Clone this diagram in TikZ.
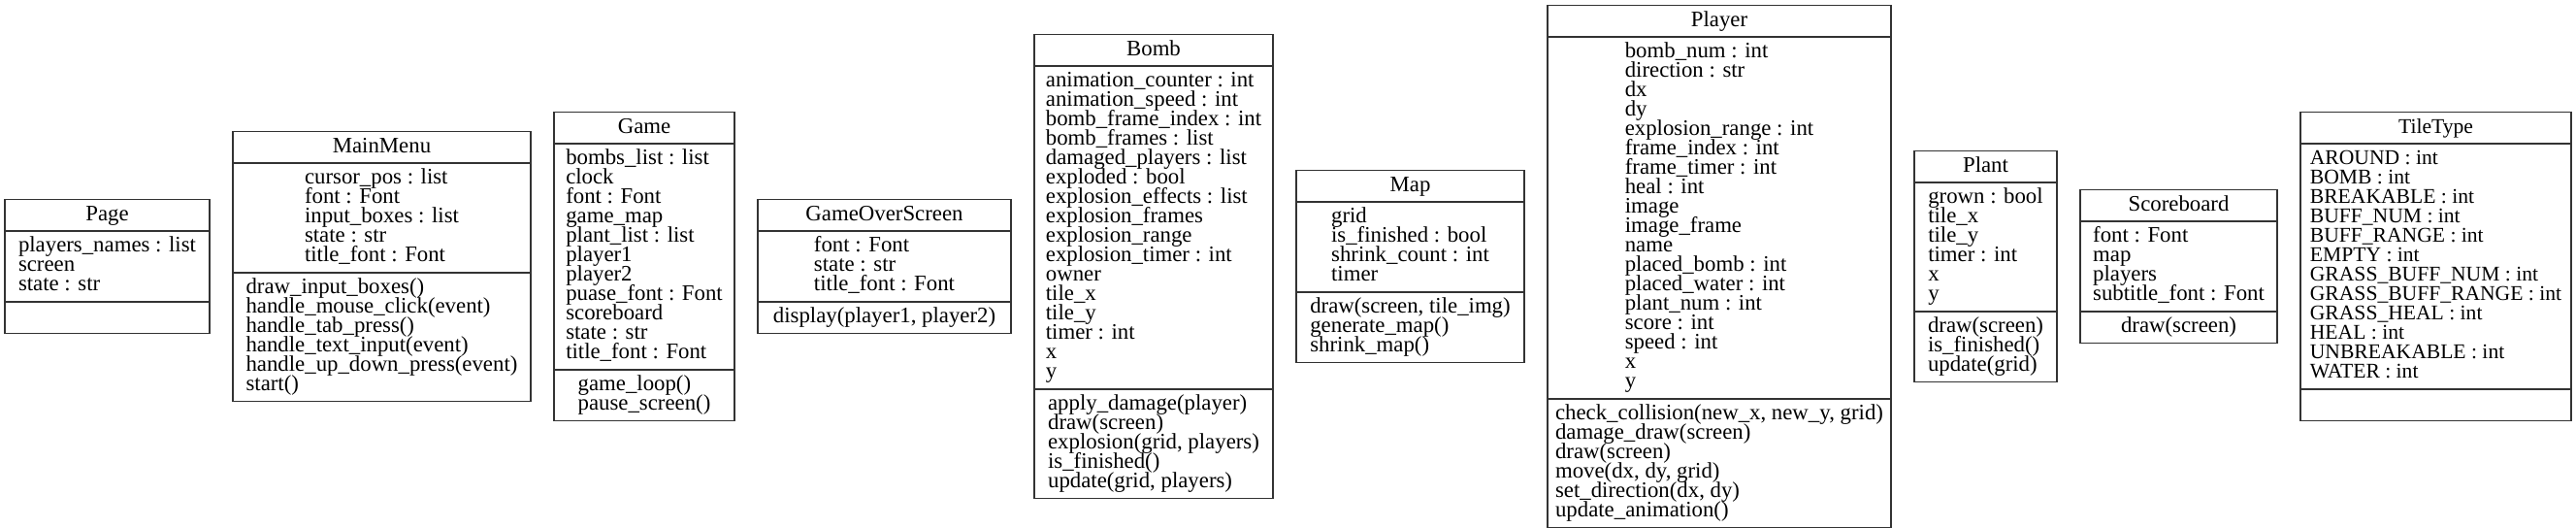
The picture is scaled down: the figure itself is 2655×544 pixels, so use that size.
\documentclass[tikz,border=0pt]{standalone}
\usepackage{fontspec}
\setmainfont{Liberation Serif}
\usetikzlibrary{shapes.multipart}
\newcommand\cst{\rule[-2.8pt]{0pt}{11pt}}
\lineskiplimit=-100pt
\lineskip=0pt
\tikzset{
  umlclass/.style={rectangle split, rectangle split parts=3,
    draw=black!80, line width=0.85pt, fill=white,
    font=\fontsize{11.4}{10}\selectfont,
    align=left, inner xsep=1pt, inner ysep=2.25pt, outer sep=0pt,
    anchor=north west, rectangle split part align={center}},
  narrowtext/.style={font=\fontsize{10.8}{10}\selectfont}
}
\begin{document}
\begin{tikzpicture}[x=0.5pt,y=-0.5pt]
\path[use as bounding box, fill=white] (0,0) rectangle (2655,544);

\node[umlclass, minimum width=105.5pt] (page) at (5,205.5)
 {\cst Page
  \nodepart{two}\cst players\_names : list\\\cst screen\\\cst state : str
  \nodepart{three}\cst};

\node[umlclass, minimum width=153.5pt] (mainmenu) at (240,135.5)
 {\cst MainMenu
  \nodepart{two}\cst cursor\_pos : list\\\cst font : Font\\\cst input\_boxes : list\\\cst state : str\\\cst title\_font : Font
  \nodepart{three}\cst draw\_input\_boxes()\\\cst handle\_mouse\_click(event)\\\cst handle\_tab\_press()\\\cst handle\_text\_input(event)\\\cst handle\_up\_down\_press(event)\\\cst start()};

\node[umlclass, minimum width=93pt] (game) at (571,115.5)
 {\cst Game
  \nodepart{two}\cst bombs\_list : list\\\cst clock\\\cst font : Font\\\cst game\_map\\\cst plant\_list : list\\\cst player1\\\cst player2\\\cst puase\_font : Font\\\cst scoreboard\\\cst state : str\\\cst title\_font : Font
  \nodepart{three}\cst game\_loop()\\\cst pause\_screen()};

\node[umlclass, minimum width=130.5pt] (gameover) at (781,205.5)
 {\cst GameOverScreen
  \nodepart{two}\cst font : Font\\\cst state : str\\\cst title\_font : Font
  \nodepart{three}\cst display(player1, player2)};

\node[umlclass, minimum width=123pt] (bomb) at (1066,35.5)
 {\cst Bomb
  \nodepart{two}\cst animation\_counter : int\\\cst animation\_speed : int\\\cst bomb\_frame\_index : int\\\cst bomb\_frames : list\\\cst damaged\_players : list\\\cst exploded : bool\\\cst explosion\_effects : list\\\cst explosion\_frames\\\cst explosion\_range\\\cst explosion\_timer : int\\\cst owner\\\cst tile\_x\\\cst tile\_y\\\cst timer : int\\\cst x\\\cst y
  \nodepart{three}\cst apply\_damage(player)\\\cst draw(screen)\\\cst explosion(grid, players)\\\cst is\_finished()\\\cst update(grid, players)};

\node[umlclass, minimum width=117.5pt] (map) at (1336,175.5)
 {\cst Map
  \nodepart{two}\cst grid\\\cst is\_finished : bool\\\cst shrink\_count : int\\\cst timer
  \nodepart{three}\cst draw(screen, tile\_img)\\\cst generate\_map()\\\cst shrink\_map()};

\node[umlclass, minimum width=177pt] (player) at (1595,5.5)
 {\cst Player
  \nodepart{two}\cst bomb\_num : int\\\cst direction : str\\\cst dx\\\cst dy\\\cst explosion\_range : int\\\cst frame\_index : int\\\cst frame\_timer : int\\\cst heal : int\\\cst image\\\cst image\_frame\\\cst name\\\cst placed\_bomb : int\\\cst placed\_water : int\\\cst plant\_num : int\\\cst score : int\\\cst speed : int\\\cst x\\\cst y
  \nodepart{three}\cst check\_collision(new\_x, new\_y, grid)\\\cst damage\_draw(screen)\\\cst draw(screen)\\\cst move(dx, dy, grid)\\\cst set\_direction(dx, dy)\\\cst update\_animation()};

\node[umlclass, minimum width=73.5pt] (plant) at (1973,155.5)
 {\cst Plant
  \nodepart{two}\cst grown : bool\\\cst tile\_x\\\cst tile\_y\\\cst timer : int\\\cst x\\\cst y
  \nodepart{three}\cst draw(screen)\\\cst is\_finished()\\\cst update(grid)};

\node[umlclass, minimum width=101.5pt] (scoreboard) at (2144,195.5)
 {\cst Scoreboard
  \nodepart{two}\cst font : Font\\\cst map\\\cst players\\\cst subtitle\_font : Font
  \nodepart{three}\cst draw(screen)};

\node[umlclass, narrowtext, minimum width=139.5pt] (tiletype) at (2371,115.5)
 {\cst TileType
  \nodepart{two}\cst AROUND : int\\\cst BOMB : int\\\cst BREAKABLE : int\\\cst BUFF\_NUM : int\\\cst BUFF\_RANGE : int\\\cst EMPTY : int\\\cst GRASS\_BUFF\_NUM : int\\\cst GRASS\_BUFF\_RANGE : int\\\cst GRASS\_HEAL : int\\\cst HEAL : int\\\cst UNBREAKABLE : int\\\cst WATER : int
  \nodepart{three}\cst};
\end{tikzpicture}
\end{document}
